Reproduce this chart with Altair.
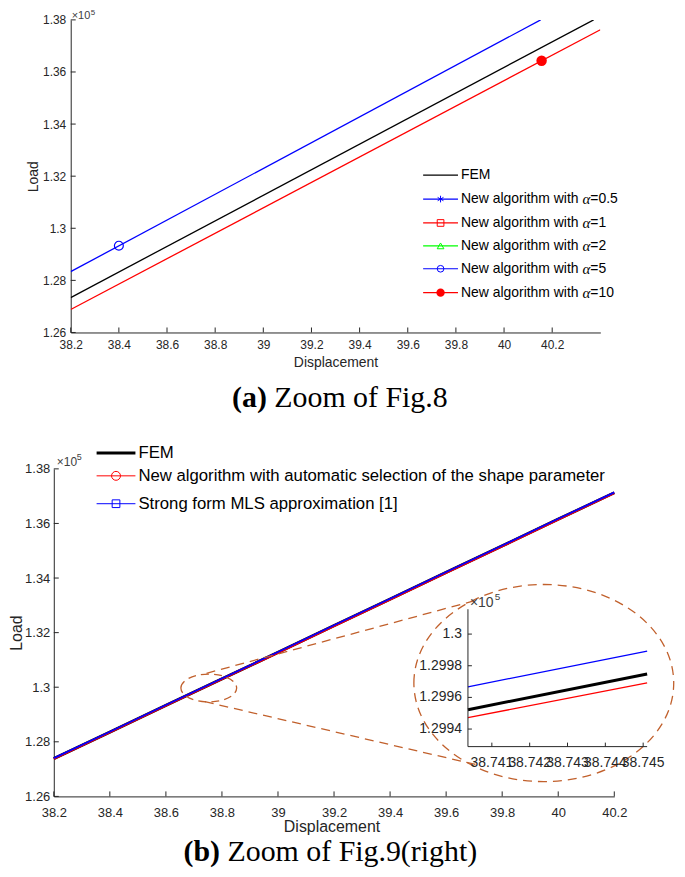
import altair as alt
import pandas as pd

AX = "#262626"
SANS = "Liberation Sans"
SERIF = "Liberation Serif"
BROWN = "#c1602c"
ASTERISK = "M0,-1L0,1M-0.866,-0.5L0.866,0.5M-0.866,0.5L0.866,-0.5"

# ================= (a) Zoom of Fig.8 =================
a_xticks = [38.2, 38.4, 38.6, 38.8, 39.0, 39.2, 39.4, 39.6, 39.8, 40.0, 40.2]
a_yticks = [1.26, 1.28, 1.30, 1.32, 1.34, 1.36, 1.38]
a_xdomain = [38.2, 40.4]
a_ydomain = [1.26, 1.38]

a_fem_x = [38.2, 40.372]
a_fem_y = [1.2734, 1.3800]
a_alpha5_x = [38.2, 40.152]
a_alpha5_y = [1.28335, 1.3800]
a_alpha10_x = [38.2, 40.400]
a_alpha10_y = [1.2688, 1.3762]

a_open_marker_x = [38.4]      # alpha = 5 (open circle)
a_open_marker_y = [1.2933]
a_fill_marker_x = [40.156]    # alpha = 10 (filled circle)
a_fill_marker_y = [1.3643]

a_leg_labels = ["FEM", "New algorithm with α=0.5", "New algorithm with α=1",
                "New algorithm with α=2", "New algorithm with α=5",
                "New algorithm with α=10"]
a_leg_colors = ["#000000", "#0000ff", "#ff0000", "#00ff00", "#0000ff", "#ff0000"]
a_leg_shapes = ["", ASTERISK, "square", "triangle-up", "circle", "circle"]
a_leg_filled = [False, False, False, False, False, True]

# ================= (b) Zoom of Fig.9(right) =================
b_xticks = [38.2, 38.4, 38.6, 38.8, 39.0, 39.2, 39.4, 39.6, 39.8, 40.0, 40.2]
b_yticks = [1.26, 1.28, 1.30, 1.32, 1.34, 1.36, 1.38]
b_xdomain = [38.2, 40.2]
b_ydomain = [1.26, 1.38]
b_x = [38.2, 38.4, 38.6, 38.8, 39.0, 39.2, 39.4, 39.6, 39.8, 40.0, 40.2]
b_fem = [1.27385, 1.28355, 1.29335, 1.30305, 1.31275, 1.32255, 1.33225, 1.34205, 1.35175, 1.36155, 1.37125]
b_new = [1.27380, 1.28350, 1.29330, 1.30300, 1.31270, 1.32250, 1.33220, 1.34200, 1.35170, 1.36150, 1.37120]
b_mls = [1.27400, 1.28370, 1.29350, 1.30320, 1.31290, 1.32270, 1.33240, 1.34220, 1.35190, 1.36170, 1.37140]

b_leg_labels = ["FEM", "New algorithm with automatic selection of the shape parameter",
                "Strong form MLS approximation [1]"]
b_leg_colors = ["#000000", "#ff0000", "#0000ff"]
b_leg_shapes = ["", "circle", "square"]

zoom_small_center = [38.753, 1.2997]
zoom_big_center = [39.9485, 1.30153]
conn_x = [38.745, 38.739]
conn_y = [1.3051, 1.2947]
conn_x2 = [39.716, 39.709]
conn_y2 = [1.3321, 1.2716]

inset_xdomain = [38.740368, 38.745105]
inset_ydomain = [1.299289, 1.300157]
inset_x = [38.740368, 38.745105]
inset_fem = [1.299522, 1.299748]
inset_new = [1.299472, 1.299692]
inset_mls = [1.299667, 1.299893]
inset_xticks = [38.741, 38.742, 38.743, 38.744, 38.745]
inset_yticks = [1.2994, 1.2996, 1.2998, 1.3]

# ================= layout (pixels) =================
WA, HA = 532, 314
WB, HB = 546, 329
DXB = -17


def one():
    return alt.Chart(pd.DataFrame({"t": [""]}))


def txt(s, x, y, size, font=SANS, weight="normal", align="left",
        baseline="middle", color="#000000", style="normal"):
    return alt.Chart(pd.DataFrame({"t": [s]})).mark_text(
        font=font, fontSize=size, fontWeight=weight, align=align,
        baseline=baseline, color=color, fontStyle=style
    ).encode(text="t:N", x=alt.value(x), y=alt.value(y))


def pin(x, y):
    # invisible anchor that fixes the layout bounds
    return one().mark_rule(opacity=0).encode(
        x=alt.value(x), y=alt.value(y), y2=alt.value(y + 1))


def legend_row(label, color, shape, filled, x0, x1, y, fsize, lw, msize):
    out = [one().mark_rule(color=color, strokeWidth=lw).encode(
        x=alt.value(x0), x2=alt.value(x1), y=alt.value(y))]
    if shape:
        out.append(one().mark_point(shape=shape, filled=filled, size=msize,
                                    color=color, strokeWidth=1, opacity=1).encode(
            x=alt.value((x0 + x1) / 2), y=alt.value(y)))
    tx = x1 + 3
    if "α" in label:
        head, tail = label.split("α")
        w_head = 8.724 * fsize          # advance width of "New algorithm with "
        out.append(txt(head, tx, y, fsize))
        out.append(txt("α", tx + w_head, y, fsize + 1, font=SERIF, style="italic"))
        out.append(txt(tail, tx + w_head + 0.56 * fsize, y, fsize))
    else:
        out.append(txt(label, tx, y, fsize))
    return out


def mk_axis(values, lsize, tsize, title, lpad, tpad, **kw):
    return alt.Axis(values=values, format="~g", tickSize=0, grid=False,
                    domainColor=AX, domainWidth=1, labelColor=AX, labelFont=SANS,
                    labelFontSize=lsize, labelPadding=lpad, labelFlush=False,
                    labelOverlap=False, title=title, titleFont=SANS,
                    titleFontSize=tsize, titleFontWeight="normal", titleColor=AX,
                    titlePadding=tpad, **kw)


# ---------------- chart (a) ----------------
xa_s = alt.Scale(domain=a_xdomain, nice=False, zero=False)
ya_s = alt.Scale(domain=a_ydomain, nice=False, zero=False)
xa_ax = mk_axis(a_xticks, 12, 14, "Displacement", 7, 5)
ya_ax = mk_axis(a_yticks, 12, 14, "Load", 5, 2)


def XA(f="x"):
    return alt.X(f"{f}:Q", scale=xa_s, axis=xa_ax)


def YA(f="y"):
    return alt.Y(f"{f}:Q", scale=ya_s, axis=ya_ax)


a_lines = pd.DataFrame({
    "s": ["FEM"] * 2 + ["a5"] * 2 + ["a10"] * 2,
    "x": a_fem_x + a_alpha5_x + a_alpha10_x,
    "y": a_fem_y + a_alpha5_y + a_alpha10_y,
    "i": [0, 1] * 3,
})
layers_a = [
    pin(0, -26),
    alt.Chart(a_lines).mark_line(strokeWidth=1.3, clip=True).encode(
        x=XA(), y=YA(), order="i:Q",
        color=alt.Color("s:N", scale=alt.Scale(domain=["FEM", "a5", "a10"],
                                               range=["#000000", "#0000ff", "#ff0000"]),
                        legend=None)),
    alt.Chart(pd.DataFrame({"x": a_open_marker_x, "y": a_open_marker_y})).mark_point(
        shape="circle", size=80, filled=False, color="#0000ff", strokeWidth=1.2,
        opacity=1).encode(x=XA(), y=YA()),
    alt.Chart(pd.DataFrame({"x": a_fill_marker_x, "y": a_fill_marker_y})).mark_point(
        shape="circle", size=110, filled=True, color="#ff0000", opacity=1).encode(
        x=XA(), y=YA()),
    alt.Chart(pd.DataFrame({"x": a_xticks})).mark_rule(color=AX).encode(
        x=XA(), y=alt.value(HA), y2=alt.value(HA - 5)),
    alt.Chart(pd.DataFrame({"y": a_yticks})).mark_rule(color=AX).encode(
        y=YA(), x=alt.value(0), x2=alt.value(5)),
    txt("×10", 1, -1, 11, baseline="alphabetic", color="#404040"),
    txt("5", 20, -4.5, 8, baseline="alphabetic", color="#404040"),
]
a_rows_y = [156, 180, 204, 227, 250, 274]
for lab, col, shp, fil, yy in zip(a_leg_labels, a_leg_colors, a_leg_shapes,
                                  a_leg_filled, a_rows_y):
    layers_a += legend_row(lab, col, shp, fil, 354, 389, yy, 14, 1.2,
                           70 if fil else 45)
layers_a += [
    txt("(a)", 197, 380, 30, font=SERIF, weight="bold", align="right"),
    txt("Zoom of Fig.8", 204.5, 380, 30, font=SERIF),
]
chart_a = alt.layer(*layers_a).properties(width=WA, height=HA)

# ---------------- chart (b) ----------------
xb_s = alt.Scale(domain=b_xdomain, range=[DXB, DXB + 563], nice=False, zero=False)
yb_s = alt.Scale(domain=b_ydomain, nice=False, zero=False)
xb_ax = mk_axis(b_xticks, 13, 16, "Displacement", 10, 0, titleX=262, titleY=22)
yb_ax = mk_axis(b_yticks, 13, 16, "Load", 4, 0, offset=-DXB)


def XB(f="x"):
    return alt.X(f"{f}:Q", scale=xb_s, axis=xb_ax)


def YB(f="y"):
    return alt.Y(f"{f}:Q", scale=yb_s, axis=yb_ax)


def series_df(xs, ys):
    return pd.DataFrame({"x": xs, "y": ys, "i": list(range(len(xs)))})


small_path = "M-1,0A1,0.5,0,1,1,1,0A1,0.5,0,1,1,-1,0Z"
big_path = "M-1,0A1,0.7586,0,1,1,1,0A1,0.7586,0,1,1,-1,0Z"

main_b = [
    pin(-62, -25),
    alt.Chart(series_df(b_x, b_fem)).mark_line(color="#000000", strokeWidth=3).encode(
        x=XB(), y=YB(), order="i:Q"),
    alt.Chart(series_df(b_x, b_new)).mark_line(color="#ff0000", strokeWidth=2.4).encode(
        x=XB(), y=YB(), order="i:Q"),
    alt.Chart(series_df(b_x, b_mls)).mark_line(color="#0000ff", strokeWidth=1.8).encode(
        x=XB(), y=YB(), order="i:Q"),
    alt.Chart(pd.DataFrame({"x": b_xticks})).mark_rule(color=AX).encode(
        x=XB(), y=alt.value(HB), y2=alt.value(HB - 5)),
    alt.Chart(pd.DataFrame({"y": b_yticks})).mark_rule(color=AX).encode(
        y=YB(), x=alt.value(DXB), x2=alt.value(DXB + 5)),
    alt.Chart(pd.DataFrame({"x": [zoom_small_center[0]], "y": [zoom_small_center[1]]})).mark_point(
        shape=small_path, size=3136, filled=False, color=BROWN, strokeWidth=1.3,
        strokeDash=[8, 5], opacity=1).encode(x=XB(), y=YB()),
    alt.Chart(pd.DataFrame({"x": [zoom_big_center[0]], "y": [zoom_big_center[1]]})).mark_point(
        shape=big_path, size=68121, filled=False, color=BROWN, strokeWidth=1.3,
        strokeDash=[9, 6], opacity=1).encode(x=XB(), y=YB()),
    alt.Chart(pd.DataFrame({"x": conn_x, "y": conn_y, "x2": conn_x2, "y2": conn_y2})).mark_rule(
        color=BROWN, strokeWidth=1.3, strokeDash=[9, 6]).encode(
        x=XB(), y=YB(), x2="x2:Q", y2="y2:Q"),
    txt("×10", DXB + 3, -3, 12, baseline="alphabetic", color="#404040"),
    txt("5", DXB + 23, -9, 9, baseline="alphabetic", color="#404040"),
]
b_rows_y = [-16, 7, 35]
for lab, col, shp, yy in zip(b_leg_labels, b_leg_colors, b_leg_shapes, b_rows_y):
    main_b += legend_row(lab, col, shp, False, 26, 65, yy, 16.8,
                         3 if lab == "FEM" else 1, 80 if shp == "circle" else 60)
main_b += [
    txt("(b)", 150, 394, 30, font=SERIF, weight="bold", align="right",
        baseline="alphabetic"),
    txt("Zoom of Fig.9(right)", 157.5, 394, 30, font=SERIF, baseline="alphabetic"),
]

xi_s = alt.Scale(domain=inset_xdomain, range=[399, 579], nice=False, zero=False)
yi_s = alt.Scale(domain=inset_ydomain, range=[279, 141], nice=False, zero=False)


def XI(f="x"):
    return alt.X(f"{f}:Q", scale=xi_s, axis=None)


def YI(f="y"):
    return alt.Y(f"{f}:Q", scale=yi_s, axis=None)


inset = [
    alt.Chart(series_df(inset_x, inset_mls)).mark_line(color="#0000ff", strokeWidth=1.3).encode(
        x=XI(), y=YI(), order="i:Q"),
    alt.Chart(series_df(inset_x, inset_new)).mark_line(color="#ff0000", strokeWidth=1.3).encode(
        x=XI(), y=YI(), order="i:Q"),
    alt.Chart(series_df(inset_x, inset_fem)).mark_line(color="#000000", strokeWidth=3).encode(
        x=XI(), y=YI(), order="i:Q"),
    alt.Chart(pd.DataFrame({"x": [inset_xdomain[0]], "y": [inset_ydomain[0]],
                            "y2": [inset_ydomain[1]]})).mark_rule(color=AX).encode(
        x=XI(), y=YI(), y2="y2:Q"),
    alt.Chart(pd.DataFrame({"x": [inset_xdomain[0]], "x2": [inset_xdomain[1]],
                            "y": [inset_ydomain[0]]})).mark_rule(color=AX).encode(
        x=XI(), x2="x2:Q", y=YI()),
    alt.Chart(pd.DataFrame({"x": inset_xticks})).mark_rule(color=AX).encode(
        x=XI(), y=alt.value(279), y2=alt.value(275)),
    alt.Chart(pd.DataFrame({"y": inset_yticks})).mark_rule(color=AX).encode(
        y=YI(), x=alt.value(399), x2=alt.value(403)),
    alt.Chart(pd.DataFrame({"x": inset_xticks})).mark_text(
        font=SANS, fontSize=14, color=AX, align="center", baseline="middle").encode(
        x=XI(), y=alt.value(295), text=alt.Text("x:Q", format="~g")),
    alt.Chart(pd.DataFrame({"y": inset_yticks})).mark_text(
        font=SANS, fontSize=14, color=AX, align="right", baseline="middle").encode(
        y=YI(), x=alt.value(393), text=alt.Text("y:Q", format="~g")),
    txt("×10", 401, 139, 14, baseline="alphabetic", color="#404040"),
    txt("5", 426, 132, 10, baseline="alphabetic", color="#404040"),
]

chart_b = alt.layer(alt.layer(*main_b), alt.layer(*inset)).resolve_scale(
    x="independent", y="independent").properties(width=WB, height=HB)

chart = alt.vconcat(chart_a, chart_b, spacing=31).properties(
    padding={"left": 0, "top": -16, "right": 0, "bottom": 0},
    background="#ffffff",
).configure_view(stroke=None)

chart.save("out.html", embed_options={"renderer": "svg", "actions": False})
